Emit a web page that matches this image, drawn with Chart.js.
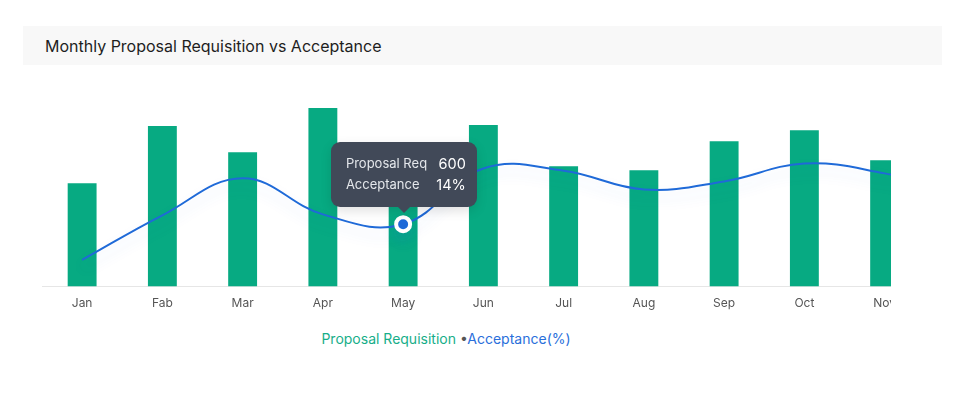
<!DOCTYPE html>
<html>
<head>
<meta charset="utf-8">
<script src="https://cdn.jsdelivr.net/npm/chart.js@4"></script>
<style>
  body { margin: 0; background: #fff; font-family: Inter, "Noto Sans", sans-serif; }
  #page { position: relative; width: 970px; height: 399px; overflow: hidden; }
  #titleBar { position: absolute; left: 23px; top: 26px; width: 919px; height: 39px; background: #f8f8f8; }
  #titleBar span { position: absolute; left: 22px; top: 10px; font-size: 16px; color: #1e1e1e; }
  #chartWrap { position: absolute; left: 41px; top: 85px; width: 850px; height: 250px; overflow: hidden; }
  #chartWrap canvas { display: block; }
  #legend { position: absolute; left: 0; width: 892px; top: 330px; text-align: center; font-size: 14px; }
  #legend .req { color: #17ae89; }
  #legend .dot { color: #555; }
  #legend .acc { color: #2a6fdb; }
  #tip { position: absolute; display: none; background: #414958; border-radius: 9px; color: #e4e7eb;
         font-size: 13px; padding: 0 11px 0 15px; box-sizing: border-box; width: 146px; height: 65px;
         box-shadow: 0 4px 12px rgba(0,0,0,0.12); }
  #tip .row { display: flex; justify-content: space-between; height: 21px; line-height: 21px; }
  #tip .row:first-child { margin-top: 11px; }
  #tip .val { font-size: 14.5px; color: #fff; }
  #tip:after { content: ""; position: absolute; left: 50%; bottom: -6px; margin-left: -6px;
               border-left: 6px solid transparent; border-right: 6px solid transparent; border-top: 6px solid #414958; }
</style>
</head>
<body>
<div id="page">
  <div id="titleBar"><span>Monthly Proposal Requisition vs Acceptance</span></div>
  <div id="chartWrap"><canvas id="myChart" width="965" height="236"></canvas></div>
  <div id="legend"><span class="req">Proposal Requisition</span> <span class="dot">&bull;</span><span class="acc">Acceptance(%)</span></div>
  <div id="tip"></div>
</div>
<script>
const months = ['Jan', 'Fab', 'Mar', 'Apr', 'May', 'Jun', 'Jul', 'Aug', 'Sep', 'Oct', 'Nov', 'Dec'];
const proposalReq = [515, 800, 670, 890, 600, 805, 600, 580, 725, 780, 630, 700];
const acceptance = [6, 16, 24.3, 16.2, 14, 26.5, 26, 21.8, 23.6, 27.6, 25.4, 21];
const hoverIndex = 4;

// soft blue glow under the line
const lineGlow = {
  id: 'lineGlow',
  beforeDatasetDraw(chart, args) {
    if (args.index === 1) {
      const c = chart.ctx;
      c.save();
      c.shadowColor = 'rgba(33, 103, 217, 0.16)';
      c.shadowBlur = 14;
      c.shadowOffsetY = 8;
    }
  },
  afterDatasetDraw(chart, args) {
    if (args.index === 1) chart.ctx.restore();
  }
};

function renderTip(context) {
  const tip = document.getElementById('tip');
  const tt = context.tooltip;
  if (tt.opacity === 0 || !tt.dataPoints || !tt.dataPoints.length) {
    tip.style.display = 'none';
    return;
  }
  let req = '', acc = '';
  tt.dataPoints.forEach((dp) => {
    if (dp.datasetIndex === 0) req = dp.raw;
    else acc = dp.raw + '%';
  });
  tip.innerHTML =
    '<div class="row"><span>Proposal Req</span><span class="val">' + req + '</span></div>' +
    '<div class="row"><span>Acceptance</span><span class="val">' + acc + '</span></div>';
  const pt = context.chart.getDatasetMeta(1).data[hoverIndex];
  tip.style.display = 'block';
  tip.style.left = (41 + pt.x - 72) + 'px';
  tip.style.top = (85 + pt.y - 82) + 'px';
}

const ctx = document.getElementById('myChart').getContext('2d');
const myChart = new Chart(ctx, {
  type: 'bar',
  data: {
    labels: months,
    datasets: [
      {
        label: 'Proposal Requisition',
        data: proposalReq,
        backgroundColor: '#07aa82',
        hoverBackgroundColor: '#07aa82',
        barPercentage: 0.36,
        categoryPercentage: 1,
        yAxisID: 'y',
        order: 1,
      },
      {
        type: 'line',
        label: 'Acceptance(%)',
        data: acceptance,
        borderColor: '#1f6ad8',
        borderWidth: 2,
        tension: 0.4,
        fill: false,
        pointRadius: 0,
        pointHoverRadius: 7,
        pointHoverBorderWidth: 4,
        pointBackgroundColor: '#1f6ad8',
        pointHoverBackgroundColor: '#1f6ad8',
        pointHoverBorderColor: '#ffffff',
        yAxisID: 'y2',
        order: 0,
        clip: false,
      },
    ],
  },
  options: {
    responsive: false,
    animation: false,
    layout: { padding: 0 },
    plugins: {
      legend: { display: false },
      tooltip: { enabled: false, mode: 'index', intersect: false, external: renderTip },
    },
    scales: {
      x: {
        grid: { display: false, drawTicks: false },
        border: { display: true, color: '#e6e6e6', width: 1 },
        ticks: { color: '#555', padding: 10, font: { family: 'Inter', size: 12 } },
      },
      y: { display: false, min: 0, max: 1000 },
      y2: { display: false, min: 0, max: 45 },
    },
  },
  plugins: [lineGlow],
});

const meta = myChart.getDatasetMeta(1).data[hoverIndex];
myChart.setActiveElements([{ datasetIndex: 1, index: hoverIndex }]);
myChart.tooltip.setActiveElements(
  [{ datasetIndex: 0, index: hoverIndex }, { datasetIndex: 1, index: hoverIndex }],
  { x: meta.x, y: meta.y }
);
myChart.update();
</script>
</body>
</html>
